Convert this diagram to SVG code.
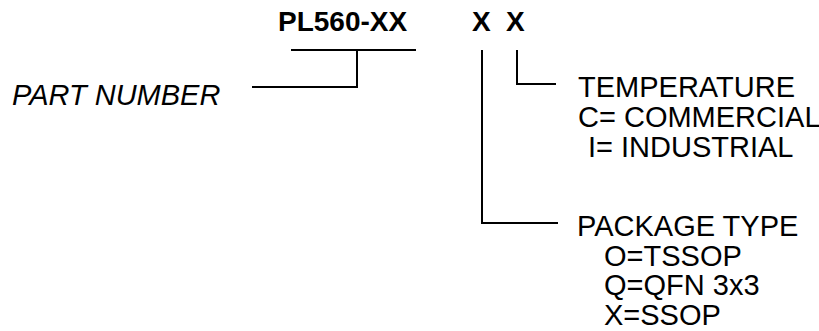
<svg xmlns="http://www.w3.org/2000/svg" width="819" height="331" viewBox="0 0 819 331">
<style>
text{font-family:"Liberation Sans",Arial,sans-serif;font-size:29px;fill:#000}
.b{font-weight:bold;font-size:28px}
.i{font-style:italic}
.c{fill:none;stroke:#000;stroke-width:2}
</style>
<rect width="819" height="331" fill="#fff"/>
<g id="part-code">
<text class="b" x="278" y="31">PL560-XX</text>
<text class="b" x="472" y="31">X</text>
<text class="b" x="506" y="31">X</text>
</g>
<g id="part-number">
<text class="i" x="12" y="105">PART NUMBER</text>
</g>
<g id="temperature">
<text x="578" y="97">TEMPERATURE</text>
<text x="578" y="127">C= COMMERCIAL</text>
<text x="588" y="157">I= INDUSTRIAL</text>
</g>
<g id="package">
<text x="577" y="236">PACKAGE TYPE</text>
<text x="604" y="266">O=TSSOP</text>
<text x="604" y="295">Q=QFN 3x3</text>
<text x="604" y="325">X=SSOP</text>
</g>
<g id="connectors">
<path class="c" d="M291 50H416M357 50V87H252"/>
<path class="c" d="M517 50V84H556"/>
<path class="c" d="M482 50V223H558"/>
</g>
</svg>
